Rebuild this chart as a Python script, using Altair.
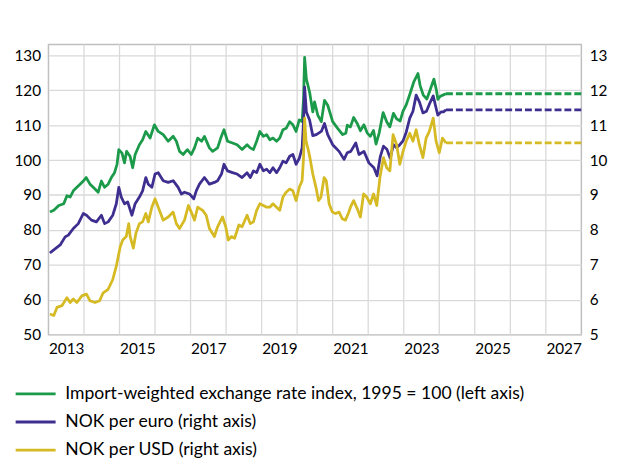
import altair as alt
import pandas as pd

# ---------------- data ----------------
LBL_G = "Import-weighted exchange rate index, 1995 = 100 (left axis)"
LBL_E = "NOK per euro (right axis)"
LBL_U = "NOK per USD (right axis)"

green_t = [2013.04, 2013.15, 2013.29, 2013.43, 2013.52, 2013.61, 2013.70, 2013.80, 2013.89, 2013.98,
           2014.06, 2014.17, 2014.26, 2014.40, 2014.49, 2014.58, 2014.68, 2014.77, 2014.86, 2014.93,
           2014.98, 2015.07, 2015.14, 2015.20, 2015.30, 2015.37, 2015.44, 2015.56, 2015.65, 2015.74,
           2015.86, 2015.98, 2016.09, 2016.23, 2016.37, 2016.51, 2016.60, 2016.69, 2016.79, 2016.91,
           2017.02, 2017.11, 2017.20, 2017.31, 2017.39, 2017.53, 2017.62, 2017.76, 2017.85, 2017.94,
           2018.04, 2018.18, 2018.31, 2018.45, 2018.59, 2018.68, 2018.77, 2018.86, 2018.95, 2019.05,
           2019.14, 2019.23, 2019.32, 2019.42, 2019.51, 2019.60, 2019.69, 2019.79, 2019.88, 2019.97,
           2020.06, 2020.14, 2020.18, 2020.21, 2020.26, 2020.35, 2020.44, 2020.49, 2020.58, 2020.68,
           2020.77, 2020.86, 2021.00, 2021.14, 2021.28, 2021.37, 2021.41, 2021.50, 2021.59, 2021.69,
           2021.78, 2021.88, 2021.97, 2022.06, 2022.15, 2022.22, 2022.31, 2022.42, 2022.52, 2022.61,
           2022.71, 2022.80, 2022.90, 2022.98, 2023.07, 2023.17, 2023.28, 2023.40, 2023.46, 2023.55,
           2023.65, 2023.74, 2023.85, 2023.92, 2023.96, 2024.03, 2024.10, 2024.19]
green_v = [85.1, 85.6, 87.0, 87.5, 89.8, 89.4, 91.2, 92.2, 93.1, 94.0,
           95.0, 93.1, 92.2, 90.8, 94.0, 92.2, 93.1, 95.0, 96.4, 98.8,
           103.0, 102.0, 99.2, 102.5, 101.0, 97.8, 101.6, 104.4, 105.8, 108.2,
           106.3, 110.1, 108.2, 107.3, 105.4, 106.8, 105.4, 102.5, 101.6, 103.0,
           101.6, 103.5, 106.3, 105.4, 106.8, 103.5, 102.5, 103.5, 106.3, 108.7,
           105.4, 104.9, 104.4, 103.0, 104.4, 103.5, 103.0, 105.4, 108.2, 106.8,
           107.3, 105.8, 106.3, 105.4, 106.3, 108.7, 109.1, 111.0, 110.1, 108.2,
           111.5, 111.0, 117.6, 129.4, 123.2, 119.5, 113.8, 116.7, 112.9, 111.0,
           117.1, 115.7, 111.0, 109.1, 107.3, 107.7, 110.0, 109.5, 112.2, 110.5,
           108.4, 110.1, 107.8, 106.8, 108.5, 104.6, 107.8, 113.6, 111.0, 109.5,
           113.4, 111.8, 111.2, 114.0, 115.8, 118.8, 122.3, 124.8, 121.4, 118.6,
           117.5, 120.0, 123.2, 120.0, 117.4, 118.3, 118.6, 119.0]

eur_t = [2013.04, 2013.15, 2013.33, 2013.47, 2013.56, 2013.70, 2013.84, 2013.98, 2014.07, 2014.21,
         2014.35, 2014.49, 2014.58, 2014.68, 2014.81, 2014.91, 2014.98, 2015.05, 2015.14, 2015.23,
         2015.35, 2015.44, 2015.56, 2015.65, 2015.74, 2015.81, 2015.91, 2016.00, 2016.09, 2016.23,
         2016.37, 2016.51, 2016.65, 2016.74, 2016.83, 2016.97, 2017.09, 2017.16, 2017.25, 2017.39,
         2017.53, 2017.67, 2017.76, 2017.87, 2017.94, 2018.04, 2018.18, 2018.31, 2018.45, 2018.59,
         2018.68, 2018.77, 2018.86, 2018.95, 2019.05, 2019.14, 2019.23, 2019.32, 2019.42, 2019.51,
         2019.60, 2019.69, 2019.79, 2019.88, 2019.97, 2020.06, 2020.14, 2020.18, 2020.21, 2020.26,
         2020.35, 2020.44, 2020.54, 2020.68, 2020.77, 2020.86, 2021.00, 2021.18, 2021.32, 2021.41,
         2021.51, 2021.65, 2021.74, 2021.88, 2022.02, 2022.16, 2022.25, 2022.34, 2022.43, 2022.53,
         2022.62, 2022.71, 2022.80, 2022.89, 2022.98, 2023.07, 2023.17, 2023.26, 2023.35, 2023.44,
         2023.54, 2023.64, 2023.73, 2023.83, 2023.92, 2023.96, 2024.05, 2024.12, 2024.19]
eur_v = [7.34, 7.43, 7.57, 7.80, 7.85, 8.04, 8.18, 8.47, 8.42, 8.28,
         8.23, 8.42, 8.18, 8.23, 8.42, 8.75, 9.22, 8.94, 8.75, 8.80,
         8.42, 8.75, 8.94, 9.12, 9.50, 9.31, 9.22, 9.60, 9.64, 9.41,
         9.36, 9.41, 9.22, 9.03, 9.08, 9.03, 8.89, 9.12, 9.31, 9.50,
         9.31, 9.36, 9.41, 9.60, 9.88, 9.69, 9.64, 9.60, 9.50, 9.64,
         9.50, 9.69, 9.64, 9.88, 9.69, 9.74, 9.64, 9.78, 9.64, 9.78,
         9.97, 9.92, 10.11, 10.16, 9.88, 10.05, 10.35, 11.10, 12.09, 11.38,
         11.15, 10.70, 10.73, 10.82, 11.05, 10.73, 10.44, 10.25, 10.02, 10.21,
         10.25, 10.49, 10.16, 10.25, 9.92, 9.78, 9.55, 10.10, 10.40, 10.30,
         10.05, 10.44, 10.35, 10.44, 10.55, 10.80, 11.20, 11.40, 11.86, 11.67,
         11.35, 11.40, 11.62, 11.84, 11.45, 11.29, 11.38, 11.38, 11.44]

usd_t = [2013.04, 2013.15, 2013.24, 2013.38, 2013.52, 2013.61, 2013.70, 2013.80, 2013.94, 2014.07,
         2014.17, 2014.31, 2014.44, 2014.54, 2014.68, 2014.81, 2014.91, 2015.02, 2015.09, 2015.19,
         2015.26, 2015.30, 2015.39, 2015.46, 2015.56, 2015.65, 2015.74, 2015.81, 2015.91, 2016.00,
         2016.09, 2016.23, 2016.37, 2016.51, 2016.60, 2016.69, 2016.83, 2016.94, 2017.02, 2017.11,
         2017.20, 2017.34, 2017.44, 2017.53, 2017.67, 2017.76, 2017.90, 2017.99, 2018.06, 2018.15,
         2018.24, 2018.36, 2018.45, 2018.59, 2018.68, 2018.77, 2018.86, 2018.95, 2019.05, 2019.14,
         2019.23, 2019.32, 2019.42, 2019.51, 2019.60, 2019.69, 2019.79, 2019.88, 2019.97, 2020.06,
         2020.14, 2020.18, 2020.21, 2020.25, 2020.30, 2020.36, 2020.44, 2020.53, 2020.60, 2020.67,
         2020.76, 2020.82, 2020.90, 2020.99, 2021.08, 2021.18, 2021.27, 2021.36, 2021.45, 2021.50,
         2021.59, 2021.69, 2021.78, 2021.87, 2021.96, 2022.06, 2022.15, 2022.24, 2022.33, 2022.43,
         2022.52, 2022.61, 2022.70, 2022.80, 2022.89, 2022.98, 2023.07, 2023.17, 2023.26, 2023.35,
         2023.44, 2023.54, 2023.63, 2023.72, 2023.83, 2023.91, 2024.00, 2024.09, 2024.19]
usd_v = [5.59, 5.55, 5.78, 5.83, 6.06, 5.92, 6.02, 5.92, 6.11, 6.16,
         5.97, 5.92, 5.97, 6.20, 6.30, 6.58, 6.96, 7.52, 7.71, 7.81,
         8.18, 7.81, 7.48, 7.90, 8.18, 8.23, 8.47, 8.23, 8.65, 8.89,
         8.65, 8.28, 8.37, 8.51, 8.18, 8.04, 8.28, 8.70, 8.51, 8.28,
         8.65, 8.56, 8.42, 8.04, 7.81, 8.09, 8.37, 8.09, 7.71, 7.81,
         7.76, 8.14, 8.09, 8.42, 8.18, 8.23, 8.56, 8.75, 8.70, 8.65,
         8.65, 8.75, 8.65, 8.56, 8.94, 9.08, 9.17, 9.12, 8.84, 9.22,
         9.41, 10.07, 11.20, 10.54, 10.35, 10.07, 9.60, 9.22, 8.84, 8.94,
         9.50, 9.41, 8.75, 8.51, 8.47, 8.51, 8.32, 8.28, 8.50, 8.65,
         8.84, 8.61, 8.37, 9.03, 8.94, 8.75, 9.03, 8.70, 9.50, 10.07,
         9.78, 9.69, 10.73, 10.44, 9.88, 10.25, 10.54, 10.77, 10.54, 10.87,
         10.44, 10.07, 10.63, 10.82, 11.20, 10.54, 10.21, 10.63, 10.49]

# flat technical assumption (dashed)
proj_t = [2024.19, 2028.0]
proj_green = [119.0, 119.0]
proj_eur = [11.44, 11.44]
proj_usd = [10.49, 10.49]

year_gridlines = [2014, 2015, 2016, 2017, 2018, 2019, 2020, 2021, 2022, 2023, 2024, 2025, 2026, 2027]
x_label_pos = [2013.5, 2015.5, 2017.5, 2019.5, 2021.5, 2023.5, 2025.5, 2027.5]
left_ticks = [50, 60, 70, 80, 90, 100, 110, 120, 130]
right_ticks = [5, 6, 7, 8, 9, 10, 11, 12, 13]

COLORS = ["#1B9A4A", "#3D2E8F", "#D6BA24"]
FONT = "Lato"
GRID = "#d9d9d9"

# ---------------- tables ----------------
df_g = pd.DataFrame({"t": green_t, "v": green_v, "s": LBL_G})
df_r = pd.concat([
    pd.DataFrame({"t": eur_t, "v": eur_v, "s": LBL_E}),
    pd.DataFrame({"t": usd_t, "v": usd_v, "s": LBL_U}),
])
dp_g = pd.DataFrame({"t": proj_t, "v": proj_green, "s": LBL_G})
dp_r = pd.concat([
    pd.DataFrame({"t": proj_t, "v": proj_eur, "s": LBL_E}),
    pd.DataFrame({"t": proj_t, "v": proj_usd, "s": LBL_U}),
])
df_grid = pd.DataFrame({"t": year_gridlines})

xscale = alt.Scale(domain=[2013, 2028], nice=False, zero=False)
xaxis = alt.Axis(values=x_label_pos, labelExpr="floor(datum.value)", grid=False, ticks=False,
                 domain=False, title=None, labelPadding=7)


def X():
    return alt.X("t:Q", scale=xscale, axis=xaxis)


yl_scale = alt.Scale(domain=[50, 133.1], nice=False, zero=False)
yl_axis = alt.Axis(orient="left", values=left_ticks, grid=True, gridColor=GRID, gridWidth=1.3,
                   ticks=False, domain=False, title=None, labelPadding=8)
yr_scale = alt.Scale(domain=[5, 13.31], nice=False, zero=False)
yr_axis = alt.Axis(orient="right", values=right_ticks, grid=False, ticks=False, domain=False,
                   title=None, labelPadding=8)

cscale = alt.Scale(domain=[LBL_G, LBL_E, LBL_U], range=COLORS)
legend = alt.Legend(orient="none", legendX=-35, legendY=343, direction="vertical", title=None,
                    symbolType="stroke", symbolSize=1640, symbolStrokeWidth=3, clipHeight=22,
                    rowPadding=6.5, labelFontSize=17.8, labelFont=FONT, labelColor="#000",
                    labelOffset=8, labelLimit=700, padding=0)

grid = alt.Chart(df_grid).mark_rule(color=GRID, strokeWidth=1.3).encode(x=X())

g_solid = alt.Chart(df_g).mark_line(strokeWidth=2.8, strokeJoin="round").encode(
    x=X(), y=alt.Y("v:Q", scale=yl_scale, axis=yl_axis),
    color=alt.Color("s:N", scale=cscale, legend=legend))
g_dash = alt.Chart(dp_g).mark_line(strokeWidth=2.8, strokeDash=[7, 3]).encode(
    x=X(), y=alt.Y("v:Q", scale=yl_scale, axis=yl_axis),
    color=alt.Color("s:N", scale=cscale, legend=None))
left = alt.layer(g_solid, g_dash)

r_solid = alt.Chart(df_r).mark_line(strokeWidth=2.8, strokeJoin="round").encode(
    x=X(), y=alt.Y("v:Q", scale=yr_scale, axis=yr_axis),
    color=alt.Color("s:N", scale=cscale, legend=None), detail="s:N")
r_dash = alt.Chart(dp_r).mark_line(strokeWidth=2.8, strokeDash=[7, 3]).encode(
    x=X(), y=alt.Y("v:Q", scale=yr_scale, axis=yr_axis),
    color=alt.Color("s:N", scale=cscale, legend=None), detail="s:N")
right = alt.layer(r_solid, r_dash)

chart = (
    alt.layer(grid, left, right)
    .resolve_scale(y="independent")
    .properties(width=540, height=294,
                autosize=alt.AutoSizeParams(type="none"),
                padding={"left": 41, "top": 34, "right": 28, "bottom": 123})
    .configure_view(stroke="#bfbfbf", strokeWidth=1.5)
    .configure_axis(labelFont=FONT, labelFontSize=15.5, labelColor="#000")
)

chart.save("out.html", embed_options={"renderer": "svg", "actions": False})
